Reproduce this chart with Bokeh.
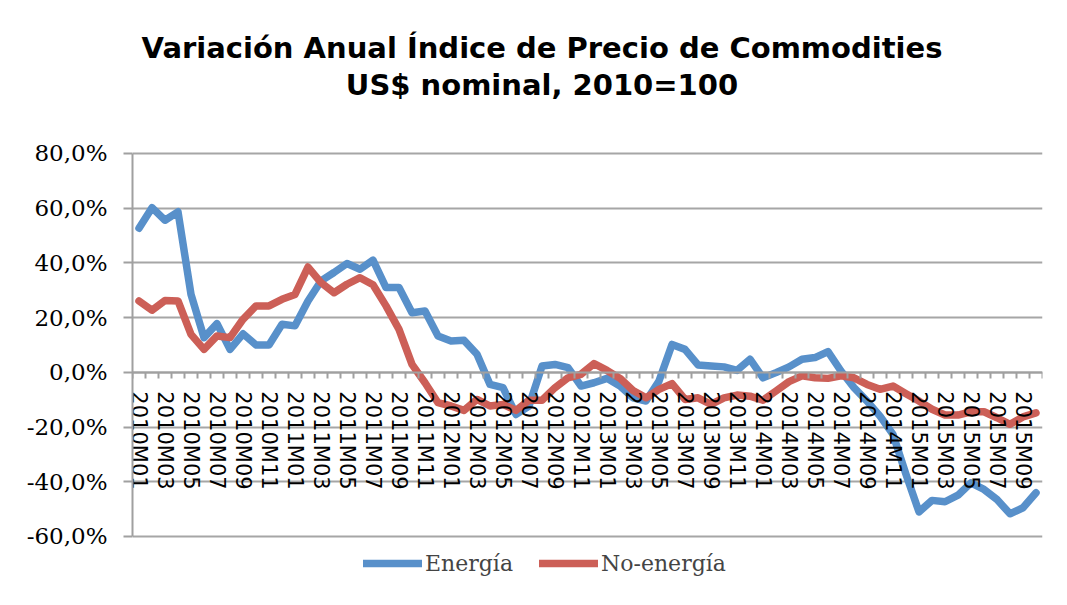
from bokeh.plotting import figure
from bokeh.models import Range1d, FixedTicker, Label, Legend, LegendItem
from bokeh.embed import file_html
from bokeh.resources import INLINE

months = [f"{y}M{m:02d}" for y in range(2010, 2016) for m in range(1, 13)][:70]

energia = [52.7, 60.2, 55.6, 58.7, 28.5, 12.7, 17.8, 8.4, 14.1, 10.0,
           10.0, 17.6, 17.0, 26.1, 33.4, 36.5, 39.8, 37.7, 41.0, 31.0,
           31.0, 21.8, 22.4, 13.3, 11.5, 11.7, 6.6, -4.4, -5.6, -15.4,
           -12.3, 2.3, 2.9, 1.7, -5.0, -3.8, -2.2, -5.0, -9.3, -10.5,
           -3.2, 10.2, 8.4, 2.7, 2.3, 2.0, 0.7, 4.8, -2.0, -0.1,
           2.0, 4.8, 5.4, 7.6, 0.5, -5.6, -10.5, -16.0, -22.7, -37.3,
           -51.0, -46.8, -47.3, -44.9, -40.4, -42.8, -46.5, -51.7, -49.5, -44.0]

no_energia = [26.1, 22.7, 26.3, 26.1, 13.9, 8.4, 13.3, 12.7, 19.4, 24.3,
              24.3, 26.7, 28.5, 38.5, 32.8, 29.1, 32.2, 34.6, 32.0, 24.3,
              15.7, 2.9, -3.8, -11.1, -12.3, -13.9, -9.9, -12.3, -11.7, -13.9,
              -10.2, -10.2, -5.6, -2.0, -0.7, 3.2, 0.7, -2.2, -6.6, -9.3,
              -6.2, -4.1, -9.9, -9.3, -11.7, -9.3, -8.3, -8.7, -10.2, -6.8,
              -3.4, -1.3, -2.0, -2.2, -1.3, -2.0, -4.4, -6.2, -5.0, -7.8,
              -10.5, -13.5, -15.6, -15.6, -14.4, -14.4, -16.6, -19.0, -16.3, -14.8]

y_ticks = [-60, -40, -20, 0, 20, 40, 60, 80]
y_tick_labels = ["-60,0%", "-40,0%", "-20,0%", "0,0%", "20,0%", "40,0%", "60,0%", "80,0%"]

title_lines = ["Variación Anual Índice de Precio de Commodities", "US$ nominal, 2010=100"]
series_names = ["Energía", "No-energía"]
colors = ["#5890ca", "#cc5f57"]

x = list(range(len(months)))

# frame spans nearly the whole canvas so that the title and legend can sit inside it
p = figure(width=1060, height=600, output_backend="svg", toolbar_location=None,
           x_range=Range1d(-0.5, len(months) - 0.5), y_range=Range1d(-79.74, 132.27),
           min_border_left=132, min_border_right=18, min_border_top=10, min_border_bottom=10)
p.outline_line_color = None
p.background_fill_color = "white"
p.border_fill_color = "white"

r1 = p.line(x, energia, line_color=colors[0], line_width=7.5, line_join="round", line_cap="round")
r2 = p.line(x, no_energia, line_color=colors[1], line_width=7.5, line_join="round", line_cap="round")

# y axis
p.yaxis.bounds = (y_ticks[0], y_ticks[-1])
p.yaxis.ticker = FixedTicker(ticks=y_ticks)
p.yaxis.major_label_overrides = dict(zip(y_ticks, y_tick_labels))
p.yaxis.axis_line_color = "#a0a0a0"
p.yaxis.axis_line_width = 2
p.yaxis.major_tick_line_color = "#a0a0a0"
p.yaxis.major_tick_line_width = 2
p.yaxis.major_tick_out = 9
p.yaxis.major_tick_in = 0
p.yaxis.minor_tick_line_color = None
p.yaxis.major_label_standoff = 16
p.yaxis.major_label_text_font = "DejaVu Serif"
p.yaxis.major_label_text_font_size = "23px"
p.yaxis.major_label_text_color = "black"

# x axis at y = 0
p.xaxis.fixed_location = 0
p.xaxis.ticker = FixedTicker(ticks=x[::2], minor_ticks=[i - 0.5 for i in x] + [x[-1] + 0.5])
p.xaxis.major_label_overrides = {i: months[i] for i in x[::2]}
p.xaxis.major_label_orientation = "vertical"
p.xaxis.axis_line_color = "#a0a0a0"
p.xaxis.axis_line_width = 2
p.xaxis.major_tick_out = 0
p.xaxis.major_tick_in = 0
p.xaxis.minor_tick_line_color = "#a0a0a0"
p.xaxis.minor_tick_line_width = 2
p.xaxis.minor_tick_out = 6
p.xaxis.minor_tick_in = 0
p.xaxis.major_label_standoff = 13
p.xaxis.major_label_text_font = "DejaVu Sans"
p.xaxis.major_label_text_font_size = "21px"
p.xaxis.major_label_text_color = "black"

p.xgrid.grid_line_color = None
p.ygrid.ticker = FixedTicker(ticks=y_ticks)
p.ygrid.grid_line_color = "#a6a6a6"
p.ygrid.grid_line_width = 2

# title
for txt, yy in zip(title_lines, [118.38, 104.86]):
    p.add_layout(Label(x=31, y=yy, text=txt, text_align="center", text_baseline="middle",
                       text_font="DejaVu Sans", text_font_style="bold",
                       text_font_size="29px", text_color="black"))

legend = Legend(items=[LegendItem(label=series_names[0], renderers=[r1]),
                       LegendItem(label=series_names[1], renderers=[r2])],
                orientation="horizontal", location=(231, 14),
                glyph_width=59, glyph_height=26, label_standoff=3, spacing=26,
                padding=0, margin=0, border_line_color=None, background_fill_alpha=0,
                label_text_font="DejaVu Serif", label_text_font_size="22px")
p.add_layout(legend, "center")

open("out.html", "w").write(file_html(p, INLINE))
